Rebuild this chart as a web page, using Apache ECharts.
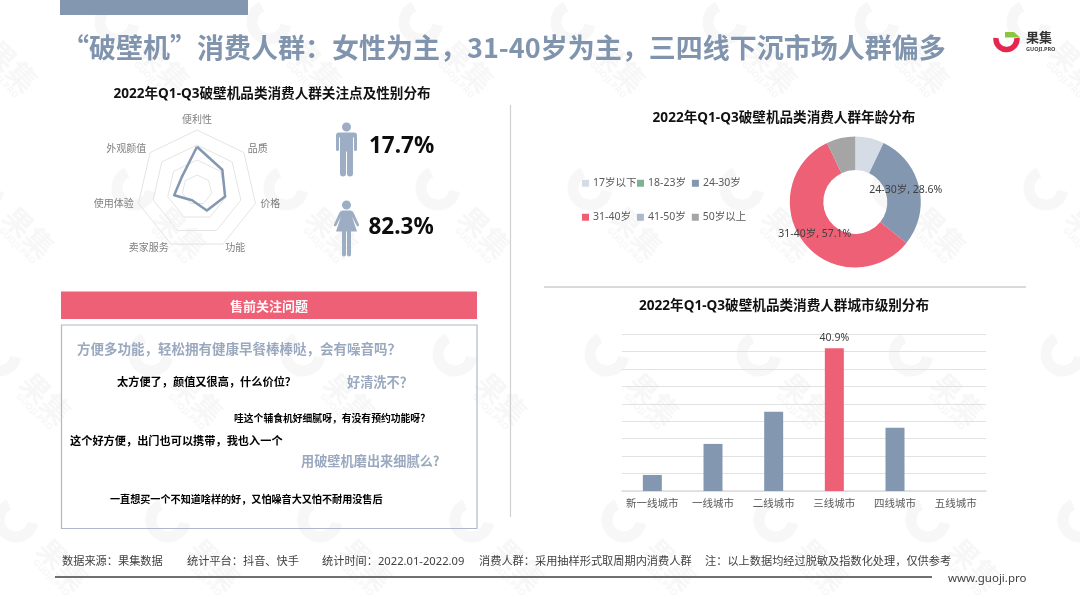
<!DOCTYPE html>
<html>
<head>
<meta charset="utf-8">
<style>html,body{margin:0;padding:0;background:#fff}#c{width:1080px;height:605px}</style>
<script src="https://cdn.jsdelivr.net/npm/echarts@6/dist/echarts.min.js"></script>
</head>
<body>
<div id="c"></div>
<script>
const FONT = '"Noto Sans","Noto Sans CJK SC",sans-serif';
const CJK = '"Noto Sans CJK SC","Noto Sans",sans-serif';
const mainTitle = '“破壁机”消费人群：女性为主，31-40岁为主，三四线下沉市场人群偏多';
const radarTitle = '2022年Q1-Q3破壁机品类消费人群关注点及性别分布';
const ageTitle = '2022年Q1-Q3破壁机品类消费人群年龄分布';
const cityTitle = '2022年Q1-Q3破壁机品类消费人群城市级别分布';
// listed clockwise from the top, as in the picture
const radarNames = ['便利性','品质','价格','功能','卖家服务','使用体验','外观颜值'];
const radarValues = [72,54,48,38,19,39,33];
const genderShare = ['17.7%','82.3%'];
const ageNames = ['17岁以下','18-23岁','24-30岁','31-40岁','41-50岁','50岁以上'];
const ageValues = [7.1,0,28.6,57.1,0,7.1];
const ageColors = ['#D6DCE5','#7DB294','#8497B0','#EE6076','#ADB9CA','#A5A5A5'];
const ageLabelled = ['24-30岁','31-40岁'];
const cityNames = ['新一线城市','一线城市','二线城市','三线城市','四线城市','五线城市'];
const cityValues = [4.6,13.5,22.7,40.9,18.1,0];
const cityHighlight = '三线城市';
const questionHeader = '售前关注问题';

const manPath='M6,4.5a4.5,4.5 0 1 0 9,0a4.5,4.5 0 1 0 -9,0zM3,10h15a3,3 0 0 1 3,3v14a1.5,1.5 0 0 1 -3,0v-12h-1v36a3,3 0 0 1 -6,0v-22h-1v22a3,3 0 0 1 -6,0v-36h-1v12a1.5,1.5 0 0 1 -3,0v-14a3,3 0 0 1 3,-3z';
const womanPath='M8,4.5a4.5,4.5 0 1 0 9,0a4.5,4.5 0 1 0 -9,0zM9,10h7c2,0 3,1 4,3l5,11a1.3,1.3 0 0 1 -2.4,1l-4.6,-9l5,15h-6v23a2,2 0 0 1 -4,0v-23h-1v23a2,2 0 0 1 -4,0v-23h-6l5,-15l-4.6,9a1.3,1.3 0 0 1 -2.4,-1l5,-11c1,-2 2,-3 4,-3z';
echarts.graphic.registerShape('manIcon', echarts.graphic.extendPath(manPath, {}));
echarts.graphic.registerShape('womanIcon', echarts.graphic.extendPath(womanPath, {}));

const chart = echarts.init(document.getElementById('c'), null, {renderer:'canvas'});
const g = [];
function txt(x,y,text,size,fill,weight,align,fam){
  g.push({type:'text',x:x,y:y,z:20,silent:true,style:{text:text,fill:fill,textAlign:align||'left',textVerticalAlign:'middle',
    font:(weight||'normal')+' '+size+'px '+(fam||FONT)}});
}
function box(x,y,w,h,fill,stroke,z){
  g.push({type:'rect',z:z||5,silent:true,shape:{x:x,y:y,width:w,height:h},style:{fill:fill||'transparent',stroke:stroke||null,lineWidth:stroke?1.2:0}});
}
function line(x1,y1,x2,y2,stroke,w){
  g.push({type:'line',z:5,silent:true,shape:{x1:x1,y1:y1,x2:x2,y2:y2},style:{stroke:stroke,lineWidth:w}});
}
// faint tiled watermark
const wm = '#F7F7F7';
for(let r=0;r<4;r++){
  for(let c=-1;c<8;c++){
    const cx = -35 + r*17 + c*152, cy = 22 + r*166;
    g.push({type:'arc',z:0,silent:true,shape:{cx:cx,cy:cy,r:17,startAngle:10*Math.PI/180,endAngle:245*Math.PI/180,clockwise:true},
      style:{fill:null,stroke:wm,lineWidth:11}});
    g.push({type:'text',z:0,silent:true,x:cx+47,y:cy+44,rotation:-Math.PI/4,style:{text:'果集',fill:wm,textAlign:'center',textVerticalAlign:'middle',font:'bold 29px "Noto Sans CJK SC"'}});
    g.push({type:'text',z:0,silent:true,x:cx+35,y:cy+58,rotation:-Math.PI/4,style:{text:'GUOJI.PRO',fill:wm,textAlign:'center',textVerticalAlign:'middle',font:'bold 9px '+FONT}});
  }
}
// header band, title, logo
box(60,0,188,15,'#8497B0');
txt(62,47.5,mainTitle,27,'#8094AE','bold','left',CJK);
g.push({type:'arc',z:5,silent:true,shape:{cx:1006.5,cy:39,r:10.5,startAngle:-5*Math.PI/180,endAngle:185*Math.PI/180,clockwise:true},style:{fill:null,stroke:'#E5264F',lineWidth:5.5}});
g.push({type:'polygon',z:5,silent:true,shape:{points:[[1005,32],[1014,32],[1020,37.5],[1005,37.5]]},style:{fill:'#8CC63F'}});
txt(1026,38,'果集',13,'#333333','bold');
txt(1026,49,'GUOJI.PRO',5.5,'#444444','bold');
// section titles
txt(272,94,radarTitle,13.6,'#111111','bold','center');
txt(784,118,ageTitle,13.6,'#111111','bold','center');
txt(784,306,cityTitle,13.6,'#111111','bold','center');
// gender icons
g.push({type:'manIcon',z:5,silent:true,x:336,y:122.5,style:{fill:'#9DADC3'}});
g.push({type:'womanIcon',z:5,silent:true,x:334,y:200.5,style:{fill:'#9DADC3'}});
txt(369,147,genderShare[0],22.5,'#0D0D0D','bold');
txt(368.5,228,genderShare[1],22.5,'#0D0D0D','bold');
// questions panel
box(61,291.5,416,27.5,'#EE6076');
txt(269,306,questionHeader,13,'#FFFFFF','bold','center',CJK);
box(61.5,325,415.5,203.5,'rgba(255,255,255,0)','#ADB9CA');
txt(77,349,'方便多功能，轻松拥有健康早餐棒棒哒，会有噪音吗？',13.5,'#9AA9BF','bold','left',CJK);
txt(117,382,'太方便了，颜值又很高，什么价位？',11.2,'#000000','bold','left',CJK);
txt(347,382,'好清洗不？',13.2,'#9AA9BF','bold','left',CJK);
txt(234,418,'哇这个辅食机好细腻呀，有没有预约功能呀？',9.8,'#000000','bold','left',CJK);
txt(70,441,'这个好方便，出门也可以携带，我也入一个',11.2,'#000000','bold','left',CJK);
txt(301,461,'用破壁机磨出来细腻么?',13.2,'#9AA9BF','bold','left',CJK);
txt(110,499,'一直想买一个不知道啥样的好，又怕噪音大又怕不耐用没售后',10.1,'#000000','bold','left',CJK);
// dividers
line(510.5,105,510.5,517,'#D0D0D0',1.2);
line(544,287,1026,287,'#B5B5B5',1);
line(55,577,932,577,'#404040',1.5);
// footer
const foot='#404040';
txt(62,562,'数据来源：果集数据',11.2,foot);
txt(187,562,'统计平台：抖音、快手',11.2,foot);
txt(322,562,'统计时间：2022.01-2022.09',11.2,foot);
txt(479,562,'消费人群：采用抽样形式取周期内消费人群',11.2,foot);
txt(705,562,'注：以上数据均经过脱敏及指数化处理，仅供参考',11.2,foot);
txt(948,579,'www.guoji.pro',11.5,foot);

const legendBase={orient:'horizontal',itemWidth:7,itemHeight:7,itemGap:6,icon:'rect',selectedMode:false,padding:0,
  textStyle:{color:'#595959',fontSize:10.5,fontFamily:FONT,width:42,padding:[0,0,0,-1]}};

// ECharts lays radar indicators out anticlockwise, so the list is turned round for it
const radarOrder = [0,6,5,4,3,2,1];

chart.setOption({
  animation:false,
  textStyle:{fontFamily:FONT},
  graphic:{elements:g},
  legend:[
    Object.assign({},legendBase,{left:582,top:178,data:ageNames.slice(0,1)}),
    Object.assign({},legendBase,{left:637,top:178,data:ageNames.slice(1,3)}),
    Object.assign({},legendBase,{left:582,top:212,data:ageNames.slice(3)})
  ],
  radar:{
    center:[197,190],radius:60,startAngle:90,splitNumber:4,shape:'polygon',nameGap:5,
    indicator:radarOrder.map(i=>({name:radarNames[i],max:100,min:0})),
    axisName:{color:'#7F7F7F',fontSize:10,fontFamily:FONT},
    axisLine:{show:false},axisTick:{show:false},splitArea:{show:false},
    splitLine:{lineStyle:{color:'#E4E4E4',width:1}}
  },
  grid:{left:622,right:94,top:334,bottom:114},
  xAxis:{type:'category',data:cityNames,axisTick:{show:false},
    axisLine:{lineStyle:{color:'#DDDDDD',width:1.5}},
    axisLabel:{color:'#595959',fontSize:10.5,margin:8,fontFamily:FONT,interval:0}},
  yAxis:{type:'value',min:0,max:45,interval:5,axisLabel:{show:false},axisLine:{show:false},axisTick:{show:false},
    splitLine:{lineStyle:{color:'#E2E2E2',width:1.2}}},
  series:[
    {type:'radar',symbol:'none',z:3,lineStyle:{color:'#8497B0',width:2.5},areaStyle:{color:'rgba(0,0,0,0)'},
      data:[{value:radarOrder.map(i=>radarValues[i]),name:'关注点'}]},
    {type:'pie',center:[855.3,202],radius:[32,65.5],startAngle:90,clockwise:true,avoidLabelOverlap:false,
      minShowLabelAngle:0,
      data:ageNames.map((n,i)=>({name:n,value:ageValues[i],
        itemStyle:{color:ageColors[i]},
        label:{show:ageLabelled.includes(n)}})),
      label:{position:'inside',formatter:'{b}, {c}%',color:'#404040',fontSize:10.5,fontFamily:FONT},
      labelLine:{show:false},emphasis:{disabled:true}},
    {type:'bar',barWidth:19,z:3,
      data:cityNames.map((n,i)=>({value:cityValues[i],
        itemStyle:{color:n===cityHighlight?'#EE6076':'#8497B0'},
        label:{show:n===cityHighlight,position:'top',formatter:'{c}%',color:'#404040',fontSize:10.5,distance:5,fontFamily:FONT}}))}
  ]
});
</script>
</body>
</html>
